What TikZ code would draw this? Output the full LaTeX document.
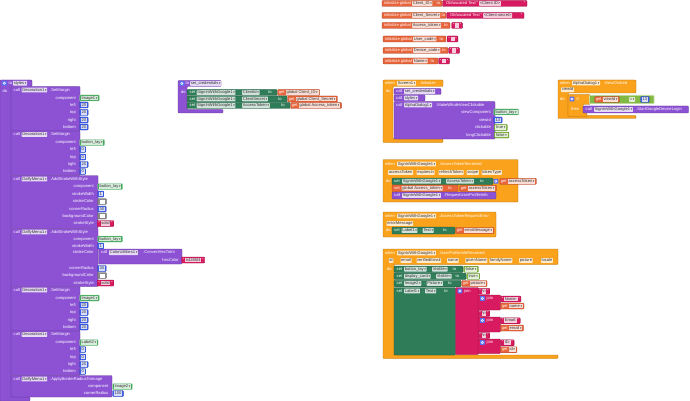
\documentclass[tikz,border=0pt]{standalone}
\usepackage{graphicx}
\usepackage{fontspec}
\setmainfont{Liberation Sans}
\newfontfamily\symf{DejaVu Sans}
\definecolor{cvar}{HTML}{E8643A}
\definecolor{ctext}{HTML}{D81B60}
\definecolor{cproc}{HTML}{8D52D4}
\definecolor{cset}{HTML}{2E7D58}
\definecolor{ccomp}{HTML}{43A85B}
\definecolor{cnum}{HTML}{3F60F2}
\definecolor{clog}{HTML}{82B942}
\definecolor{cctrl}{HTML}{FBA21C}
\definecolor{ccol}{HTML}{8A8A8A}
\definecolor{cgear}{HTML}{5A6FF0}
\newcommand\bfs{\fontsize{4.1}{5}\selectfont}
\newcommand\dnar{\,\scalebox{0.75}{\symf\char"25BE}}
\newcount\nidc
\newcommand\nextid{\global\advance\nidc by 1\relax}
\newcommand\chipc[2]{{\setlength\fboxsep{0.45pt}\colorbox{#1}{\textcolor{black!80}{\rule[-0.9pt]{0pt}{3.9pt}\hspace{0.3pt}#2\hspace{0.3pt}}}}}
\tikzset{
  wtext/.style={font=\bfs, text=white, inner sep=0pt, anchor=west, text height=3pt, text depth=0.8pt},
  chip/.style={font=\bfs, text=black!80, fill=white, fill opacity=0.78, text opacity=1, rounded corners=0.5pt, inner xsep=0.6pt, inner ysep=0.5pt, anchor=west, text height=3pt, text depth=0.8pt},
  blockshape/.style={rounded corners=0.8pt, line width=0.3pt},
  vblk/.style={anchor=west, font=\bfs, text=white, inner xsep=1.2pt, inner ysep=0pt, minimum height=6pt, rounded corners=0.8pt, line width=0.3pt},
}
\newcommand\xblk[5]{\path[blockshape,fill=#1,draw=#1!70!black] (#2,#3) rectangle (#4,#5);}
\newcommand\xcsh[9]{\path[blockshape,fill=#1,draw=#1!70!black] (#2,#3) -- (#4,#3) -- (#4,#5) -- (#6,#5) -- (#6,#7) -- (#8,#7) -- (#8,#9) -- (#2,#9) -- cycle;}
\newcommand\xwt[3]{\nextid\node[wtext] (n\the\nidc) at (#1,#2) {#3};}
\newcommand\xwr[3]{\nextid\node[wtext,anchor=east] (n\the\nidc) at (#1,#2) {#3};}
\newcommand\xdd[3]{\nextid\node[chip] (n\the\nidc) at (#1,#2) {#3\dnar};}
\newcommand\xch[3]{\nextid\node[chip] (n\the\nidc) at (#1,#2) {#3};}
\newcommand\xnum[3]{\nextid\node[vblk,fill=cnum,draw=cnum!70!black] (n\the\nidc) at (#1,#2) {\chipc{white!78!cnum}{#3}};}
\newcommand\xcomp[3]{\nextid\node[vblk,fill=ccomp,draw=ccomp!45!white] (n\the\nidc) at (#1,#2) {\chipc{white!78!ccomp}{#3\dnar}};}
\newcommand\xlog[3]{\nextid\node[vblk,fill=clog,draw=clog!70!black] (n\the\nidc) at (#1,#2) {\chipc{white!78!clog}{#3\dnar}};}
\newcommand\xstr[3]{\nextid\node[vblk,fill=ctext,draw=ctext!70!black] (n\the\nidc) at (#1,#2) {"\hspace{0.8pt}\chipc{white!78!ctext}{#3}\hspace{0.8pt}"};}
\newcommand\xget[3]{\nextid\node[vblk,fill=cvar,draw=cvar!70!black] (n\the\nidc) at (#1,#2) {get\hspace{1.3pt}\chipc{white!78!cvar}{#3\dnar}};}
\newcommand\xcol[2]{\path[blockshape,fill=ccol,draw=ccol!70!black] (#1,#2-3) rectangle (#1+9,#2+3);\fill[white] (#1+2,#2-2) rectangle (#1+7.5,#2+2);}
\newcommand\xgear[2]{\fill[cgear,rounded corners=0.5pt] (#1,#2-2.4) rectangle (#1+4.8,#2+2.4);\draw[white,line width=0.5pt] (#1+2.4,#2) circle[radius=1.1pt];}
\newcommand\xsm[6]{%
 \xblk{cproc}{11}{#1}{80}{#1+44.5}%
 \xwt{13.5}{#1+3.5}{call}\xdd{21.5}{#1+3.5}{Decoration1}\xwt{50}{#1+3.5}{.SetMargin}%
 \xwr{76}{#1+11.5}{component}\xcomp{79.5}{#1+11.5}{#2}%
 \xwr{76}{#1+18.5}{left}\xnum{79.5}{#1+18.5}{#3}%
 \xwr{76}{#1+26}{top}\xnum{79.5}{#1+26}{#4}%
 \xwr{76}{#1+33.5}{right}\xnum{79.5}{#1+33.5}{#5}%
 \xwr{76}{#1+40.5}{bottom}\xnum{79.5}{#1+40.5}{#6}}
\begin{document}
\begin{tikzpicture}[x=1pt,y=-1pt]
\useasboundingbox (0,0) rectangle (690,401);
\fill[white] (0,0) rectangle (690,401);

% ---------- global variables ----------
\xblk{cvar}{382}{0.5}{442}{6.5}
\xwt{384}{3.5}{initialize global}\xdd{412}{3.5}{Client\_ID}\xwt{436.5}{3.5}{to}
\xblk{ctext}{442.5}{0.5}{527}{6.5}
\xwt{446}{3.5}{Obfuscated Text}\xwt{476.5}{3.5}{"}\xch{479}{3.5}{<Client ID>}\xwr{525.5}{3.5}{"}

\xblk{cvar}{382}{12.5}{446}{18.5}
\xwt{384}{15.5}{initialize global}\xdd{412}{15.5}{Client\_Secret}\xwt{441.5}{15.5}{to}
\xblk{ctext}{446.5}{12.5}{524}{18.5}
\xwt{450}{15.5}{Obfuscated Text}\xwt{480.5}{15.5}{"}\xch{483}{15.5}{<Client-secret>}\xwr{522.5}{15.5}{"}

\xblk{cvar}{382}{22.5}{450}{28.5}
\xwt{384}{25.5}{initialize global}\xdd{412}{25.5}{Access\_token}\xwt{444}{25.5}{to}
\xstr{451.5}{25.5}{\hspace{2.5pt}}

\xblk{cvar}{383}{36}{446}{42}
\xwt{385}{39}{initialize global}\xdd{413}{39}{User\_code}\xwt{439.5}{39}{to}
\xstr{447}{39}{\hspace{2.5pt}}

\xblk{cvar}{383}{47.5}{448}{53.5}
\xwt{385}{50.5}{initialize global}\xdd{413}{50.5}{Device\_code}\xwt{442}{50.5}{to}
\xstr{448.5}{50.5}{\hspace{2.5pt}}

\xblk{cvar}{383}{58}{438}{64}
\xwt{385}{61}{initialize global}\xdd{413}{61}{Name}\xwt{430.5}{61}{to}
\xstr{438.5}{61}{\hspace{2.5pt}}

% ---------- procedure styles ----------
\xcsh{cproc}{0}{80}{32}{86.5}{11}{397}{30}{401}
\xgear{2}{83.2}
\xwt{8.5}{83.2}{to}\xdd{13}{83.2}{styles}
\xwt{2.5}{91}{do}
\xsm{86.5}{Image1}{20}{20}{20}{20}
\xsm{131}{button\_lay}{0}{0}{20}{0}
\xblk{cproc}{11}{175.5}{98}{228.5}
\xwt{13.5}{179}{call}\xdd{21.5}{179}{DaffyMenu1}\xwt{50}{179}{.AddStrokeWithStyle}
\xwr{94}{186.5}{component}\xcomp{97.5}{186.5}{button\_lay}
\xwr{94}{194}{strokeWidth}\xnum{97.5}{194}{1}
\xwr{94}{201.5}{strokeColor}\xcol{97.5}{201.5}
\xwr{94}{209}{cornerRadius}\xnum{97.5}{209}{30}
\xwr{94}{216}{backgroundColor}\xcol{97.5}{216}
\xwr{94}{223.5}{strokeStyle}\xstr{97}{223.5}{solid}
\xblk{cproc}{11}{228.5}{98}{286.5}
\xwt{13.5}{232}{call}\xdd{21.5}{232}{DaffyMenu1}\xwt{50}{232}{.AddStrokeWithStyle}
\xwr{94}{239}{component}\xcomp{97.5}{239}{button\_lay}
\xwr{94}{246}{strokeWidth}\xnum{97.5}{246}{1}
\xwr{94}{252.6}{strokeColor}
\xblk{cproc}{98.5}{249}{182}{264}
\xwt{101}{252.6}{call}\xdd{109}{252.6}{ColorUtilities1}\xwt{143}{252.6}{.ConvertHexToInt}
\xwr{179}{260}{hexColor}\xstr{181.5}{260}{\#4285f4}
\xwr{94}{268.5}{cornerRadius}\xnum{97.5}{268.5}{30}
\xwr{94}{275.5}{backgroundColor}\xcol{97.5}{275.5}
\xwr{94}{283}{strokeStyle}\xstr{97}{283}{solid}
\xsm{286.5}{Image1}{20}{20}{20}{20}
\xsm{331}{Label2}{0}{0}{20}{0}
\xblk{cproc}{11}{375.5}{112}{397}
\xwt{13.5}{379}{call}\xdd{21.5}{379}{DaffyMenu1}\xwt{50}{379}{.ApplyBorderRadiusToImage}
\xwr{108.5}{386.5}{component}\xcomp{112.5}{386.5}{Image2}
\xwr{108.5}{393.5}{cornerRadius}\xnum{112.5}{393.5}{100}

% ---------- procedure set_credentials ----------
\xcsh{cproc}{178}{80.5}{221}{86.5}{187}{109.5}{223}{113}
\xgear{179.5}{83.5}
\xwt{185.5}{83.5}{to}\xdd{190}{83.5}{set\_credentials}
\xwt{181}{92}{do}
\xblk{cset}{187}{89.5}{277}{95.5}
\xwt{189.5}{92.5}{set}\xdd{196.5}{92.5}{SignInWithGoogle1}\xwt{239.5}{92.5}{.}\xdd{242}{92.5}{ClientId}\xwt{268}{92.5}{to}
\xget{277.5}{92.5}{global Client\_ID}
\xblk{cset}{187}{96}{287}{102}
\xwt{189.5}{99}{set}\xdd{196.5}{99}{SignInWithGoogle1}\xwt{239.5}{99}{.}\xdd{242}{99}{ClientSecret}\xwt{278}{99}{to}
\xget{287.5}{99}{global Client\_Secret}
\xblk{cset}{187}{102.5}{290}{108.5}
\xwt{189.5}{105.5}{set}\xdd{196.5}{105.5}{SignInWithGoogle1}\xwt{239.5}{105.5}{.}\xdd{242}{105.5}{AccessToken}\xwt{281}{105.5}{to}
\xget{290.5}{105.5}{global Access\_token}

% ---------- when Screen1.Initialize ----------
\xcsh{cctrl}{383}{80}{443}{86.5}{393}{139}{443}{142.5}
\xwt{385}{83.2}{when}\xdd{397}{83.2}{Screen1}\xwt{419.5}{83.2}{.Initialize}
\xwt{386}{91.5}{do}
\xblk{cproc}{394}{88.5}{441}{94.5}
\xwt{396}{91.5}{call}\xdd{404}{91.5}{set\_credentials}
\xblk{cproc}{394}{95}{425}{101}
\xwt{396}{98}{call}\xdd{404}{98}{styles}
\xblk{cproc}{394}{101.5}{495}{139}
\xwt{396}{105}{call}\xdd{404}{105}{AlphaDialog1}\xwt{436}{105}{.MakeWholeViewClickable}
\xwr{491}{112}{viewComponent}\xcomp{493.5}{112}{button\_lay}
\xwr{491}{120}{viewId}\xnum{493.5}{120}{13}
\xwr{491}{127.5}{clickable}\xlog{494}{127.5}{true}
\xwr{491}{135}{longClickable}\xlog{494}{135}{false}

% ---------- when AlphaDialog1.ViewClicked ----------
\xcsh{cctrl}{558}{80}{636}{93}{568}{115.5}{636}{118.5}
\xwt{560}{83}{when}\xdd{572}{83}{AlphaDialog1}\xwt{603.5}{83}{.ViewClicked}
\xch{561}{89.8}{viewId}
\xwt{560}{99}{do}
\xcsh{cctrl}{568}{94.5}{590}{104.5}{583}{113}{587}{116.5}
\xgear{569.5}{99}
\xwt{576.5}{99}{if}
\path[blockshape,fill=clog,draw=clog!45!white,line width=0.6pt] (589.5,95.3) rectangle (654,103.7);
\xget{594.5}{99.5}{viewId}
\xdd{629}{99.5}{=}
\xnum{640.5}{99.5}{13}
\xwt{571}{109.5}{then}
\xblk{cproc}{583}{106}{688.5}{113}
\xwt{585.5}{109.5}{call}\xdd{594}{109.5}{SignInWithGoogle1}\xwt{636}{109.5}{.StartGoogleDeviceLogin}

% ---------- AccessTokenReceived ----------
\xblk{cctrl}{383}{159.5}{518}{202}
\xwt{385}{164}{when}\xdd{397}{164}{SignInWithGoogle1}\xwt{439}{164}{.AccessTokenReceived}
\xch{388}{172.5}{accessToken}\xch{416.5}{172.5}{expiresIn}\xch{438.5}{172.5}{refreshToken}\xch{466.5}{172.5}{scope}\xch{481.5}{172.5}{tokenType}
\xwt{386}{181.5}{do}
\xblk{cset}{392}{178}{493}{184.5}
\xwt{394}{181.3}{set}\xdd{402}{181.3}{SignInWithGoogle1}\xwt{443.5}{181.3}{.}\xdd{446}{181.3}{AccessToken}\xwt{480}{181.3}{to}
\xgear{493.5}{181.3}
\xget{499.5}{181.3}{accessToken}
\xblk{cvar}{392}{185}{458}{191.5}
\xwt{394}{188.3}{set}\xdd{401.5}{188.3}{global Access\_token}\xwt{448}{188.3}{to}
\xget{459.5}{188.3}{accessToken}
\xblk{cproc}{392}{192}{496}{199}
\xwt{394}{195.5}{call}\xdd{402}{195.5}{SignInWithGoogle1}\xwt{444}{195.5}{.RequestUserProfileInfo}

% ---------- AccessTokenRequestError ----------
\xblk{cctrl}{383}{212}{496}{237}
\xwt{385}{216}{when}\xdd{397}{216}{SignInWithGoogle1}\xwt{439}{216}{.AccessTokenRequestError}
\xch{386.5}{223.5}{errorMessage}
\xwt{386}{230.5}{do}
\xblk{cset}{392}{227}{455}{234}
\xwt{394}{230.5}{set}\xdd{401.5}{230.5}{Label1}\xwt{420}{230.5}{.}\xdd{422.5}{230.5}{Text}\xwt{443}{230.5}{to}
\xget{455.5}{230.5}{errorMessage}

% ---------- UserProfileInfoReceived ----------
\xcsh{cctrl}{383}{249}{558}{264.5}{394}{355}{558}{358.5}
\xwt{385}{253}{when}\xdd{397}{253}{SignInWithGoogle1}\xwt{439}{253}{.UserProfileInfoReceived}
\xch{388.7}{260.5}{id}\xch{400.3}{260.5}{email}\xch{416.3}{260.5}{verifiedEmail}\xch{447}{260.5}{name}\xch{465.2}{260.5}{givenName}\xch{489.2}{260.5}{familyName}\xch{519}{260.5}{picture}\xch{540.8}{260.5}{locale}
\xwt{387}{269.5}{do}
\xblk{cset}{394}{266}{463}{272.5}
\xwt{396.5}{269.2}{set}\xdd{404}{269.2}{button\_lay}\xwt{429.5}{269.2}{.}\xdd{432}{269.2}{Visible}\xwt{452.5}{269.2}{to}
\xlog{463.5}{269.2}{false}
\xblk{cset}{394}{273}{466}{279.5}
\xwt{396.5}{276.3}{set}\xdd{404}{276.3}{display\_card}\xwt{433.5}{276.3}{.}\xdd{436}{276.3}{Visible}\xwt{455.5}{276.3}{to}
\xlog{466.5}{276.3}{true}
\xblk{cset}{394}{280.3}{461}{286.8}
\xwt{396.5}{283.5}{set}\xdd{404}{283.5}{Image2}\xwt{424}{283.5}{.}\xdd{426.5}{283.5}{Picture}\xwt{448}{283.5}{to}
\xget{461.5}{283.5}{picture}
\xblk{cset}{394}{287.5}{455.5}{355}
\xwt{396.5}{291}{set}\xdd{404}{291}{Label1}\xwt{422.5}{291}{.}\xdd{425}{291}{Text}\xwt{444}{291}{to}
\xblk{ctext}{455.5}{287.5}{478.5}{354.5}
\xgear{457.5}{291}\xwt{464}{291}{join}
\xstr{478}{291.3}{\textbackslash n}
\xblk{ctext}{478}{295}{500.5}{310}
\xgear{480}{298.5}\xwt{486.5}{298.5}{join}
\xstr{500.5}{299}{Name:}
\xget{500.5}{306}{name}
\xstr{478}{313.5}{\textbackslash n}
\xblk{ctext}{478}{317}{500.5}{332}
\xgear{480}{320.5}\xwt{486.5}{320.5}{join}
\xstr{500.5}{320.8}{Email:}
\xget{500.5}{328}{email}
\xstr{478}{335.5}{\textbackslash n}
\xblk{ctext}{478}{339}{500.5}{353.5}
\xgear{480}{342.5}\xwt{486.5}{342.5}{join}
\xstr{500.5}{342.8}{ID:}
\xget{500.5}{349.8}{id}
\end{tikzpicture}
\end{document}
